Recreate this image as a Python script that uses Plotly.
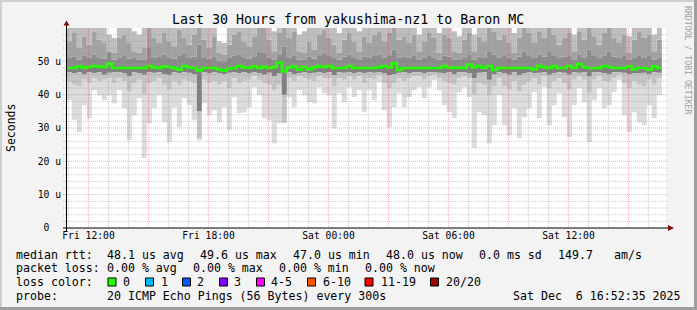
import numpy as np
import pandas as pd
import plotly.graph_objects as go

# ---------------- data (units: microseconds) ----------------
# 15-minute bins, first bin starts Fri 2025-12-05 10:55; 120 edges -> 119 bins
bin_edges = pd.date_range("2025-12-05 10:55", periods=120, freq="15min")

ping_min = [38.3, 32.3, 28.7, 36.8, 32.9, 41.3, 39.8, 38.3, 39.8, 37.4,
            41.3, 35.9, 26.3, 33.8, 38.9, 21.0, 31.4, 35.9, 39.8, 31.7,
            25.7, 36.2, 30.2, 38.9, 36.8, 32.3, 26.3, 37.4, 33.8, 35.3,
            31.7, 36.2, 29.3, 39.2, 34.4, 34.7, 36.2, 42.2, 39.8, 32.9,
            32.3, 25.4, 31.4, 31.5, 39.2, 36.2, 41.3, 39.8, 37.7, 37.4,
            42.2, 40.4, 39.8, 29.9, 40.4, 37.7, 42.2, 39.2, 41.3, 34.7,
            41.3, 38.3, 43.7, 35.3, 30.2, 36.2, 40.4, 36.2, 39.2, 41.3,
            42.2, 38.9, 42.2, 44.3, 41.3, 36.8, 34.7, 32.9, 40.7, 42.2,
            39.2, 24.0, 34.7, 33.8, 25.4, 30.8, 39.8, 30.8, 27.8, 35.9,
            26.9, 33.2, 35.9, 40.7, 32.9, 42.2, 30.8, 36.8, 40.4, 33.2,
            27.2, 36.8, 41.9, 37.7, 25.7, 38.3, 41.9, 35.9, 36.8, 40.7,
            44.3, 33.8, 28.7, 34.7, 31.7, 30.8, 36.8, 32.9, 39.8]

lower_2 = [44.0, 43.0, 42.5, 44.5, 43.5, 45.0, 44.0, 44.5, 45.0, 43.5,
           45.0, 44.0, 41.0, 43.5, 44.5, 40.0, 43.5, 44.0, 45.0, 43.0,
           41.5, 44.0, 43.0, 44.5, 44.0, 43.5, 27.0, 44.5, 43.5, 44.0,
           43.0, 44.0, 42.0, 45.0, 43.5, 44.0, 44.5, 45.5, 44.5, 43.5,
           43.0, 41.5, 43.0, 31.6, 45.0, 44.0, 45.5, 45.0, 44.5, 44.0,
           45.5, 45.0, 45.0, 42.5, 45.0, 44.5, 45.5, 44.5, 45.5, 43.5,
           45.0, 44.5, 46.0, 43.5, 42.0, 43.5, 45.0, 44.0, 45.0, 45.5,
           45.5, 44.5, 45.5, 46.0, 45.0, 44.0, 43.5, 43.0, 45.0, 45.5,
           45.0, 40.0, 43.5, 43.0, 40.0, 42.5, 45.0, 42.5, 41.5, 44.0,
           41.0, 43.0, 44.0, 45.0, 43.0, 45.5, 42.0, 44.0, 45.0, 43.5,
           41.5, 44.5, 45.5, 44.5, 40.5, 44.5, 45.5, 44.0, 44.0, 45.0,
           46.0, 43.5, 42.0, 44.0, 43.0, 42.5, 44.5, 43.0, 45.0]

lower_1 = [46.8, 46.5, 46.8, 46.2, 46.8, 46.5, 46.8, 46.0, 46.6, 46.8,
           46.8, 46.4, 45.5, 46.8, 46.5, 46.0, 46.8, 46.6, 46.8, 46.2,
           46.0, 46.8, 46.5, 46.8, 46.6, 46.2, 35.0, 46.8, 46.5, 46.8,
           46.4, 46.2, 46.6, 46.8, 46.5, 46.8, 46.4, 46.8, 46.5, 46.0,
           46.6, 45.5, 46.4, 40.0, 46.8, 46.2, 46.5, 46.8, 46.4, 46.6,
           46.8, 46.5, 46.8, 45.8, 46.8, 46.6, 46.8, 46.4, 46.8, 46.5,
           46.8, 46.6, 46.8, 46.4, 45.8, 46.2, 46.6, 46.8, 46.5, 46.8,
           46.8, 46.5, 46.8, 46.8, 46.6, 46.4, 46.8, 46.2, 46.8, 46.8,
           46.5, 45.0, 46.6, 46.8, 44.5, 46.2, 46.8, 46.4, 46.0, 46.8,
           45.8, 46.4, 46.8, 46.5, 46.6, 46.8, 46.0, 46.5, 46.8, 46.6,
           46.0, 46.8, 46.6, 46.8, 45.5, 46.8, 46.8, 46.5, 46.2, 46.8,
           46.8, 46.6, 46.2, 46.5, 46.4, 46.6, 46.2, 46.8, 46.6]

median_rtt = [48.0, 48.0, 48.5, 48.0, 48.3, 48.6, 48.4, 48.3, 49.3, 48.0,
              48.0, 48.0, 48.0, 48.0, 48.0, 48.0, 48.6, 48.1, 48.0, 48.5,
              48.3, 48.0, 47.5, 48.6, 48.2, 48.0, 47.3, 48.0, 48.0, 48.0,
              47.6, 47.2, 47.8, 48.0, 48.6, 48.1, 48.0, 48.5, 48.0, 48.4,
              48.0, 48.3, 49.6, 47.0, 48.1, 48.5, 47.5, 48.3, 47.6, 48.2,
              48.6, 48.3, 48.6, 48.0, 48.0, 48.0, 48.6, 48.0, 48.0, 48.0,
              48.0, 48.0, 48.2, 48.6, 48.2, 49.4, 47.4, 48.0, 48.0, 48.0,
              48.0, 48.0, 48.0, 48.0, 48.0, 48.6, 48.1, 48.0, 48.1, 48.0,
              49.0, 48.2, 48.6, 48.0, 48.6, 47.4, 48.0, 48.0, 48.0, 48.0,
              48.0, 48.0, 48.0, 47.6, 48.6, 48.2, 48.0, 48.6, 48.0, 48.0,
              48.6, 48.0, 49.2, 48.3, 48.0, 48.0, 48.0, 48.6, 48.3, 48.0,
              48.0, 48.0, 48.5, 47.6, 48.0, 48.0, 47.5, 48.5, 48.0]

upper_1 = [51.0, 51.5, 50.5, 51.8, 51.0, 52.0, 51.2, 50.8, 52.5, 50.5,
           51.0, 51.6, 50.8, 51.2, 50.5, 50.6, 54.0, 51.0, 51.5, 52.0,
           51.2, 50.8, 51.6, 52.2, 51.0, 51.4, 55.0, 51.0, 50.8, 51.5,
           50.2, 50.0, 51.0, 51.8, 52.0, 51.2, 50.8, 51.5, 53.0, 52.5,
           51.0, 50.5, 52.0, 54.5, 51.2, 51.8, 50.5, 50.6, 51.5, 50.8,
           51.6, 52.2, 51.8, 51.0, 50.5, 51.4, 52.0, 51.0, 50.6, 51.5,
           51.0, 51.6, 52.0, 51.2, 51.8, 53.5, 51.0, 51.5, 51.2, 51.8,
           50.4, 51.0, 51.6, 51.2, 50.5, 51.8, 51.4, 50.6, 50.4, 51.2,
           52.0, 50.6, 51.4, 51.0, 53.0, 52.0, 51.2, 51.6, 51.0, 50.6,
           51.4, 53.0, 51.6, 51.0, 52.0, 51.4, 52.8, 51.6, 51.0, 51.4,
           51.8, 50.6, 52.0, 51.2, 53.5, 51.6, 51.0, 51.8, 53.0, 51.4,
           51.0, 51.6, 50.6, 51.2, 51.8, 51.0, 51.6, 50.5, 51.2]

upper_2 = [56.0, 58.5, 54.0, 57.5, 55.0, 59.0, 56.5, 55.5, 53.0, 52.5,
           57.0, 58.0, 55.5, 53.0, 52.5, 54.0, 60.0, 57.0, 55.5, 58.5,
           56.0, 54.5, 59.5, 57.0, 55.0, 58.0, 60.0, 56.5, 54.0, 57.5,
           52.5, 52.0, 55.0, 58.0, 59.0, 56.0, 54.5, 57.5, 60.0, 60.0,
           56.5, 53.0, 58.5, 60.0, 57.0, 59.0, 53.0, 52.5, 56.0, 53.5,
           58.0, 59.5, 57.0, 55.0, 52.5, 56.5, 58.5, 56.0, 53.0, 57.5,
           55.5, 58.0, 59.0, 56.0, 58.5, 60.0, 56.5, 57.5, 55.5, 58.0,
           53.0, 56.0, 58.5, 57.0, 52.5, 58.0, 57.0, 53.0, 52.5, 56.5,
           58.5, 53.0, 57.5, 56.0, 60.0, 59.0, 56.5, 58.0, 55.5, 52.5,
           57.0, 60.0, 58.5, 55.5, 59.0, 57.0, 60.0, 58.0, 55.0, 57.0,
           58.5, 53.0, 59.0, 56.5, 60.0, 57.5, 55.0, 58.5, 60.0, 57.0,
           55.5, 58.0, 52.5, 56.5, 59.0, 57.0, 58.0, 53.0, 56.5]

upper_3 = [60.0, 60.0, 60.0, 60.0, 60.0, 60.0, 60.0, 60.0, 58.0, 57.0,
           60.0, 60.0, 60.0, 59.0, 58.0, 60.0, 60.0, 60.0, 60.0, 60.0,
           60.0, 60.0, 60.0, 60.0, 60.0, 60.0, 60.0, 60.0, 60.0, 60.0,
           56.0, 55.5, 60.0, 60.0, 60.0, 60.0, 60.0, 60.0, 60.0, 60.0,
           60.0, 59.0, 60.0, 60.0, 60.0, 60.0, 58.0, 59.0, 60.0, 60.0,
           60.0, 60.0, 60.0, 60.0, 58.5, 60.0, 60.0, 60.0, 59.0, 60.0,
           60.0, 60.0, 60.0, 60.0, 60.0, 60.0, 60.0, 60.0, 60.0, 60.0,
           58.0, 60.0, 60.0, 60.0, 58.5, 60.0, 60.0, 59.0, 57.5, 60.0,
           60.0, 58.0, 60.0, 60.0, 60.0, 60.0, 60.0, 60.0, 60.0, 58.5,
           60.0, 60.0, 60.0, 60.0, 60.0, 60.0, 60.0, 60.0, 60.0, 60.0,
           60.0, 58.0, 60.0, 60.0, 60.0, 60.0, 60.0, 60.0, 60.0, 60.0,
           60.0, 60.0, 57.5, 60.0, 60.0, 60.0, 60.0, 58.0, 60.0]

y_tick_vals = [0, 10, 20, 30, 40, 50]
y_tick_text = ["0\u00a0\u00a0", "10 u", "20 u", "30 u", "40 u", "50 u"]
x_tick_vals = ["2025-12-05 12:00", "2025-12-05 18:00", "2025-12-06 00:00",
               "2025-12-06 06:00", "2025-12-06 12:00"]
x_tick_text = ["Fri 12:00", "Fri 18:00", "Sat 00:00", "Sat 06:00", "Sat 12:00"]

loss_labels = ["0", "1", "2", "3", "4-5", "6-10", "11-19", "20/20"]
loss_colors = ["#26ff00", "#00b8ff", "#0059ff", "#7e00ff", "#ff00ff",
               "#ff5500", "#ff0000", "#a10000"]

title = "Last 30 Hours from yakushima-nz1 to Baron MC"

# ---------------- figure ----------------
MONO = "DejaVu Sans Mono"
L, T, W, H = 66, 28, 600, 200
FIG_W, FIG_H = 697, 310


def px(x):
    return (x - L) / W


def py(y):
    return (T + H - y) / H


def step(vals):
    return list(vals) + [vals[-1]]


fig = go.Figure()

layers = [
    (ping_min, None),
    (lower_2, "#dcdcdc"),
    (lower_1, "#c4c4c4"),
    (median_rtt, "#808080"),
    (upper_1, "#8c8c8c"),
    (upper_2, "#a3a3a3"),
    (upper_3, "#bebebe"),
]
for vals, col in layers:
    fig.add_trace(go.Scatter(
        x=bin_edges, y=step(vals), mode="lines",
        line=dict(width=0, shape="hv"),
        fill=None if col is None else "tonexty",
        fillcolor=col, hoverinfo="skip", showlegend=False))

fig.add_trace(go.Scatter(
    x=bin_edges, y=step(median_rtt), mode="lines",
    line=dict(color="#26ff00", width=2.6, shape="hv"),
    hoverinfo="skip", showlegend=False))

shapes = []
# grid (drawn above the smoke, like rrdtool)
MAJ = "rgba(255,60,60,0.45)"
MIN = "rgba(140,140,140,0.45)"
for h in pd.date_range("2025-12-05 11:00", "2025-12-06 16:00", freq="1h"):
    col = MAJ if h.hour % 3 == 0 else MIN
    shapes.append(dict(type="line", xref="x", yref="paper", x0=h, x1=h, y0=0, y1=1,
                       layer="above", line=dict(color=col, width=1, dash="1px,1px")))
for v in range(2, 60, 2):
    col = MAJ if v % 10 == 0 else MIN
    shapes.append(dict(type="line", xref="paper", yref="y", x0=px(63), x1=px(668),
                       y0=v, y1=v, layer="above",
                       line=dict(color=col, width=1, dash="1px,1px")))

# axes lines + arrows
shapes.append(dict(type="line", xref="paper", yref="paper", x0=px(63), x1=px(668),
                   y0=py(228), y1=py(228), layer="above", line=dict(color="#000", width=1)))
shapes.append(dict(type="line", xref="paper", yref="paper", x0=px(66.5), x1=px(66.5),
                   y0=py(231), y1=py(25), layer="above", line=dict(color="#000", width=1)))
ARROW = "#7f1010"


def path(points):
    d = "M " + " L ".join(f"{px(a):.5f},{py(b):.5f}" for a, b in points) + " Z"
    return d


shapes.append(dict(type="path", xref="paper", yref="paper", layer="above",
                   path=path([(63.5, 25.5), (69.5, 25.5), (66.5, 20.5)]),
                   fillcolor=ARROW, line=dict(width=0)))
shapes.append(dict(type="path", xref="paper", yref="paper", layer="above",
                   path=path([(668, 225), (668, 231), (674, 228)]),
                   fillcolor=ARROW, line=dict(width=0)))


def rect(x0, y0, x1, y1, fill, line=None):
    return dict(type="rect", xref="paper", yref="paper", layer="above",
                x0=px(x0), x1=px(x1), y0=py(y1), y1=py(y0), fillcolor=fill,
                line=line if line else dict(width=0))


# frame (3D border)
shapes.append(rect(0, 0, FIG_W, 2, "#cfcfcf"))
shapes.append(rect(0, 0, 2, FIG_H, "#cfcfcf"))
shapes.append(rect(0, FIG_H - 3, FIG_W, FIG_H, "#9e9e9e"))
shapes.append(rect(FIG_W - 3, 0, FIG_W, FIG_H, "#9e9e9e"))

# loss colour boxes
box_x = [108, 145.5, 182.5, 219.5, 256.5, 307.5, 365, 430.5]
lab_x = [123.3, 160.7, 197.3, 234.3, 271, 322.7, 380.7, 445.7]
for bx, c in zip(box_x, loss_colors):
    shapes.append(rect(bx, 278, bx + 8, 286, c, dict(color="#000", width=1)))

fig.update_layout(shapes=shapes)

annots = []


def ann(text, x, y, size=11.6, anchor="left", color="#000", angle=0):
    annots.append(dict(text=text, x=px(x), y=py(y), xref="paper", yref="paper",
                       xanchor=anchor, yanchor="middle", showarrow=False,
                       borderpad=0, borderwidth=0, textangle=angle,
                       font=dict(family=MONO, size=size, color=color)))


ann(title, 348, 19, size=13.3, anchor="center")
ann("Seconds", 11, 128, size=11.5, anchor="center", angle=-90)
ann("RRDTOOL / TOBI OETIKER", 688, 60, size=8.2, anchor="center", color="#a0a0a0", angle=90)

row1 = [("median rtt:", 16), ("48.1 us avg", 107.3), ("49.6 us max", 200),
        ("47.0 us min", 292.7), ("48.0 us now", 386), ("0.0 ms sd", 479.3),
        ("149.7", 558.3), ("am/s", 614.3)]
row2 = [("packet loss:", 16), ("0.00 % avg", 107.3), ("0.00 % max", 193.3),
        ("0.00 % min", 279.3), ("0.00 % now", 365)]
row4 = [("probe:", 16), ("20 ICMP Echo Pings (56 Bytes) every 300s", 107.3),
        ("Sat Dec \u00a06 16:52:35 2025", 513.3)]
for t, x in row1:
    ann(t, x, 254.5)
for t, x in row2:
    ann(t, x, 268.3)
ann("loss color:", 16, 282.3)
for t, x in zip(loss_labels, lab_x):
    ann(t, x, 282.3)
for t, x in row4:
    ann(t, x, 295.7)

fig.update_layout(
    template="none",
    width=FIG_W, height=FIG_H,
    margin=dict(l=L, r=FIG_W - L - W, t=T, b=FIG_H - T - H, pad=0),
    paper_bgcolor="#f3f3f3", plot_bgcolor="#ffffff",
    showlegend=False,
    annotations=annots,
    font=dict(family=MONO, size=10, color="#000"),
    xaxis=dict(type="date", range=["2025-12-05 10:52:35", "2025-12-06 16:52:35"],
               tickvals=x_tick_vals, ticktext=x_tick_text, showgrid=False,
               zeroline=False, showline=False, ticks="", automargin=False,
               tickfont=dict(family=MONO, size=9.7, color="#000")),
    yaxis=dict(range=[0, 60], tickvals=y_tick_vals, ticktext=y_tick_text,
               showgrid=False, zeroline=False, showline=False, ticks="",
               automargin=False, ticklabelstandoff=4,
               tickfont=dict(family=MONO, size=9.7, color="#000")),
)

fig.write_html("out.html")
